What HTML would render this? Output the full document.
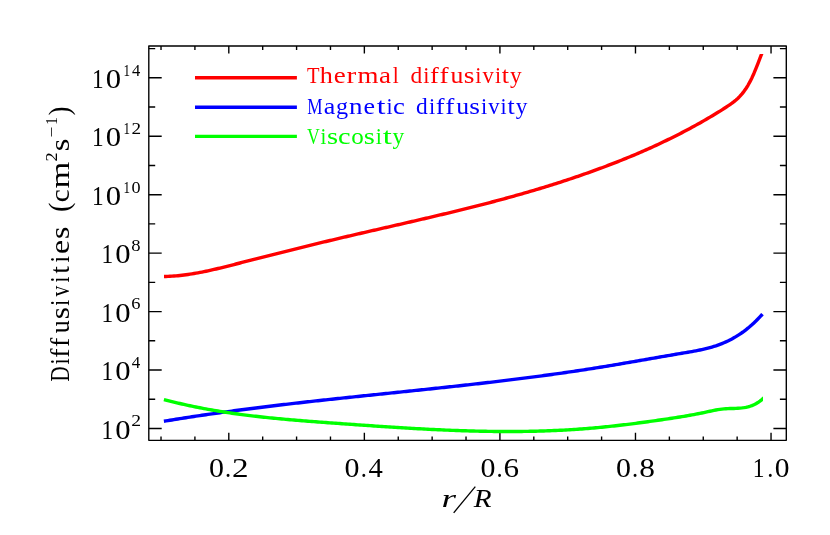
<!DOCTYPE html>
<html><head><meta charset="utf-8"><title>Diffusivities</title>
<style>html,body{margin:0;padding:0;background:#fff}svg{display:block;will-change:transform}text{font-family:"Liberation Serif",serif}</style></head>
<body>
<svg width="830" height="535" viewBox="0 0 830 535">
<rect width="830" height="535" fill="#fff"/>
<path d="M161.02,440.35V436.45M161.02,46.0V49.90M194.91,440.35V436.45M194.91,46.0V49.90M228.80,440.35V432.75M228.80,46.0V53.60M262.69,440.35V436.45M262.69,46.0V49.90M296.58,440.35V436.45M296.58,46.0V49.90M330.47,440.35V436.45M330.47,46.0V49.90M364.36,440.35V432.75M364.36,46.0V53.60M398.25,440.35V436.45M398.25,46.0V49.90M432.14,440.35V436.45M432.14,46.0V49.90M466.03,440.35V436.45M466.03,46.0V49.90M499.92,440.35V432.75M499.92,46.0V53.60M533.81,440.35V436.45M533.81,46.0V49.90M567.70,440.35V436.45M567.70,46.0V49.90M601.59,440.35V436.45M601.59,46.0V49.90M635.48,440.35V432.75M635.48,46.0V53.60M669.37,440.35V436.45M669.37,46.0V49.90M703.26,440.35V436.45M703.26,46.0V49.90M737.15,440.35V436.45M737.15,46.0V49.90M771.04,440.35V432.75M771.04,46.0V53.60M148.8,428.45H161.70M786.3,428.45H773.40M148.8,399.23H155.20M786.3,399.23H779.90M148.8,370.01H161.70M786.3,370.01H773.40M148.8,340.79H155.20M786.3,340.79H779.90M148.8,311.57H161.70M786.3,311.57H773.40M148.8,282.35H155.20M786.3,282.35H779.90M148.8,253.13H161.70M786.3,253.13H773.40M148.8,223.91H155.20M786.3,223.91H779.90M148.8,194.69H161.70M786.3,194.69H773.40M148.8,165.47H155.20M786.3,165.47H779.90M148.8,136.25H161.70M786.3,136.25H773.40M148.8,107.03H155.20M786.3,107.03H779.90M148.8,77.81H161.70M786.3,77.81H773.40M148.8,48.59H155.20M786.3,48.59H779.90" stroke="#000" stroke-width="1.38" fill="none"/>
<rect x="148.8" y="46.0" width="637.50" height="394.35" fill="none" stroke="#000" stroke-width="1.38" stroke-linejoin="round"/>
<clipPath id="rc"><rect x="150" y="54.0" width="636" height="386"/></clipPath>
<path d="M164.0,276.49 L166.0,276.45 L168.0,276.38 L170.0,276.29 L172.0,276.17 L174.0,276.04 L176.0,275.87 L178.0,275.69 L180.0,275.49 L182.0,275.26 L184.0,275.02 L186.0,274.75 L188.0,274.47 L190.0,274.17 L192.0,273.86 L194.0,273.53 L196.0,273.18 L198.0,272.82 L200.0,272.44 L202.0,272.05 L204.0,271.65 L206.0,271.23 L208.0,270.80 L210.0,270.37 L212.0,269.92 L214.0,269.46 L216.0,269.00 L218.0,268.52 L220.0,268.04 L222.0,267.56 L224.0,267.06 L226.0,266.56 L228.0,266.06 L230.0,265.55 L232.0,265.04 L234.0,264.53 L236.0,264.01 L238.0,263.50 L240.0,262.98 L242.0,262.47 L244.0,261.95 L246.0,261.44 L248.0,260.92 L250.0,260.41 L252.0,259.89 L254.0,259.38 L256.0,258.87 L258.0,258.36 L260.0,257.85 L262.0,257.34 L264.0,256.83 L266.0,256.32 L268.0,255.82 L270.0,255.31 L272.0,254.80 L274.0,254.30 L276.0,253.79 L278.0,253.29 L280.0,252.79 L282.0,252.29 L284.0,251.79 L286.0,251.29 L288.0,250.79 L290.0,250.29 L292.0,249.79 L294.0,249.29 L296.0,248.80 L298.0,248.30 L300.0,247.81 L302.0,247.32 L304.0,246.83 L306.0,246.33 L308.0,245.84 L310.0,245.36 L312.0,244.87 L314.0,244.38 L316.0,243.90 L318.0,243.41 L320.0,242.93 L322.0,242.44 L324.0,241.96 L326.0,241.48 L328.0,241.00 L330.0,240.52 L332.0,240.05 L334.0,239.57 L336.0,239.10 L338.0,238.62 L340.0,238.15 L342.0,237.68 L344.0,237.21 L346.0,236.74 L348.0,236.27 L350.0,235.80 L352.0,235.34 L354.0,234.87 L356.0,234.41 L358.0,233.94 L360.0,233.48 L362.0,233.02 L364.0,232.55 L366.0,232.09 L368.0,231.63 L370.0,231.17 L372.0,230.71 L374.0,230.25 L376.0,229.79 L378.0,229.33 L380.0,228.87 L382.0,228.42 L384.0,227.96 L386.0,227.50 L388.0,227.04 L390.0,226.58 L392.0,226.12 L394.0,225.66 L396.0,225.21 L398.0,224.75 L400.0,224.29 L402.0,223.83 L404.0,223.37 L406.0,222.91 L408.0,222.45 L410.0,221.98 L412.0,221.52 L414.0,221.06 L416.0,220.60 L418.0,220.13 L420.0,219.67 L422.0,219.20 L424.0,218.74 L426.0,218.27 L428.0,217.80 L430.0,217.33 L432.0,216.86 L434.0,216.39 L436.0,215.91 L438.0,215.44 L440.0,214.97 L442.0,214.49 L444.0,214.01 L446.0,213.53 L448.0,213.05 L450.0,212.57 L452.0,212.08 L454.0,211.60 L456.0,211.11 L458.0,210.62 L460.0,210.13 L462.0,209.64 L464.0,209.15 L466.0,208.65 L468.0,208.15 L470.0,207.65 L472.0,207.15 L474.0,206.65 L476.0,206.14 L478.0,205.63 L480.0,205.12 L482.0,204.61 L484.0,204.09 L486.0,203.57 L488.0,203.05 L490.0,202.53 L492.0,202.00 L494.0,201.48 L496.0,200.94 L498.0,200.41 L500.0,199.87 L502.0,199.34 L504.0,198.79 L506.0,198.25 L508.0,197.70 L510.0,197.15 L512.0,196.60 L514.0,196.04 L516.0,195.48 L518.0,194.92 L520.0,194.35 L522.0,193.78 L524.0,193.21 L526.0,192.63 L528.0,192.05 L530.0,191.47 L532.0,190.88 L534.0,190.29 L536.0,189.70 L538.0,189.10 L540.0,188.50 L542.0,187.89 L544.0,187.28 L546.0,186.67 L548.0,186.05 L550.0,185.43 L552.0,184.81 L554.0,184.18 L556.0,183.54 L558.0,182.91 L560.0,182.26 L562.0,181.62 L564.0,180.97 L566.0,180.31 L568.0,179.65 L570.0,178.99 L572.0,178.32 L574.0,177.65 L576.0,176.97 L578.0,176.29 L580.0,175.60 L582.0,174.91 L584.0,174.21 L586.0,173.51 L588.0,172.81 L590.0,172.10 L592.0,171.38 L594.0,170.66 L596.0,169.93 L598.0,169.20 L600.0,168.46 L602.0,167.72 L604.0,166.97 L606.0,166.22 L608.0,165.46 L610.0,164.70 L612.0,163.93 L614.0,163.15 L616.0,162.37 L618.0,161.58 L620.0,160.79 L622.0,159.99 L624.0,159.18 L626.0,158.37 L628.0,157.55 L630.0,156.73 L632.0,155.89 L634.0,155.06 L636.0,154.21 L638.0,153.36 L640.0,152.50 L642.0,151.63 L644.0,150.75 L646.0,149.87 L648.0,148.98 L650.0,148.08 L652.0,147.18 L654.0,146.27 L656.0,145.35 L658.0,144.42 L660.0,143.48 L662.0,142.54 L664.0,141.58 L666.0,140.62 L668.0,139.65 L670.0,138.67 L672.0,137.69 L674.0,136.69 L676.0,135.69 L678.0,134.67 L680.0,133.65 L682.0,132.62 L684.0,131.58 L686.0,130.53 L688.0,129.47 L690.0,128.40 L692.0,127.32 L694.0,126.23 L696.0,125.13 L698.0,124.02 L700.0,122.90 L702.0,121.77 L704.0,120.63 L706.0,119.48 L708.0,118.32 L710.0,117.15 L712.0,115.96 L714.0,114.76 L716.0,113.55 L718.0,112.32 L720.0,111.08 L722.0,109.82 L724.0,108.54 L726.0,107.25 L728.0,105.94 L730.0,104.59 L732.0,103.18 L734.0,101.65 L736.0,100.00 L738.0,98.18 L740.0,96.16 L742.0,93.89 L744.0,91.35 L746.0,88.50 L748.0,85.28 L750.0,81.67 L752.0,77.66 L754.0,73.21 L756.0,68.39 L758.0,63.33 L760.0,58.15 L762.0,52.97 L762.4,51.95" fill="none" stroke="#ff0000" stroke-width="3.4" stroke-linejoin="round" clip-path="url(#rc)"/>
<path d="M163.9,421.27 L165.9,420.94 L167.9,420.61 L169.9,420.28 L171.9,419.95 L173.9,419.63 L175.9,419.30 L177.9,418.98 L179.9,418.66 L181.9,418.35 L183.9,418.03 L185.9,417.72 L187.9,417.41 L189.9,417.10 L191.9,416.80 L193.9,416.49 L195.9,416.19 L197.9,415.89 L199.9,415.59 L201.9,415.30 L203.9,415.00 L205.9,414.71 L207.9,414.42 L209.9,414.13 L211.9,413.84 L213.9,413.56 L215.9,413.27 L217.9,412.99 L219.9,412.71 L221.9,412.43 L223.9,412.16 L225.9,411.88 L227.9,411.61 L229.9,411.34 L231.9,411.07 L233.9,410.80 L235.9,410.53 L237.9,410.27 L239.9,410.01 L241.9,409.74 L243.9,409.48 L245.9,409.22 L247.9,408.97 L249.9,408.71 L251.9,408.46 L253.9,408.20 L255.9,407.95 L257.9,407.70 L259.9,407.45 L261.9,407.20 L263.9,406.96 L265.9,406.71 L267.9,406.47 L269.9,406.22 L271.9,405.98 L273.9,405.74 L275.9,405.50 L277.9,405.26 L279.9,405.03 L281.9,404.79 L283.9,404.55 L285.9,404.32 L287.9,404.09 L289.9,403.86 L291.9,403.63 L293.9,403.40 L295.9,403.17 L297.9,402.94 L299.9,402.71 L301.9,402.49 L303.9,402.26 L305.9,402.04 L307.9,401.81 L309.9,401.59 L311.9,401.37 L313.9,401.15 L315.9,400.93 L317.9,400.71 L319.9,400.49 L321.9,400.27 L323.9,400.05 L325.9,399.84 L327.9,399.62 L329.9,399.40 L331.9,399.19 L333.9,398.97 L335.9,398.76 L337.9,398.55 L339.9,398.33 L341.9,398.12 L343.9,397.91 L345.9,397.70 L347.9,397.49 L349.9,397.28 L351.9,397.07 L353.9,396.86 L355.9,396.65 L357.9,396.44 L359.9,396.23 L361.9,396.02 L363.9,395.81 L365.9,395.60 L367.9,395.40 L369.9,395.19 L371.9,394.98 L373.9,394.77 L375.9,394.57 L377.9,394.36 L379.9,394.15 L381.9,393.95 L383.9,393.74 L385.9,393.53 L387.9,393.33 L389.9,393.12 L391.9,392.91 L393.9,392.70 L395.9,392.50 L397.9,392.29 L399.9,392.08 L401.9,391.88 L403.9,391.67 L405.9,391.46 L407.9,391.25 L409.9,391.05 L411.9,390.84 L413.9,390.63 L415.9,390.42 L417.9,390.21 L419.9,390.00 L421.9,389.79 L423.9,389.58 L425.9,389.37 L427.9,389.16 L429.9,388.95 L431.9,388.74 L433.9,388.53 L435.9,388.31 L437.9,388.10 L439.9,387.89 L441.9,387.67 L443.9,387.46 L445.9,387.24 L447.9,387.03 L449.9,386.81 L451.9,386.59 L453.9,386.38 L455.9,386.16 L457.9,385.94 L459.9,385.72 L461.9,385.50 L463.9,385.28 L465.9,385.05 L467.9,384.83 L469.9,384.61 L471.9,384.38 L473.9,384.16 L475.9,383.93 L477.9,383.70 L479.9,383.47 L481.9,383.24 L483.9,383.01 L485.9,382.78 L487.9,382.55 L489.9,382.32 L491.9,382.08 L493.9,381.85 L495.9,381.61 L497.9,381.37 L499.9,381.13 L501.9,380.89 L503.9,380.65 L505.9,380.41 L507.9,380.17 L509.9,379.92 L511.9,379.68 L513.9,379.43 L515.9,379.18 L517.9,378.93 L519.9,378.68 L521.9,378.43 L523.9,378.17 L525.9,377.92 L527.9,377.66 L529.9,377.40 L531.9,377.14 L533.9,376.88 L535.9,376.62 L537.9,376.36 L539.9,376.09 L541.9,375.82 L543.9,375.55 L545.9,375.28 L547.9,375.01 L549.9,374.74 L551.9,374.46 L553.9,374.18 L555.9,373.91 L557.9,373.62 L559.9,373.34 L561.9,373.06 L563.9,372.77 L565.9,372.48 L567.9,372.19 L569.9,371.90 L571.9,371.61 L573.9,371.31 L575.9,371.02 L577.9,370.72 L579.9,370.42 L581.9,370.11 L583.9,369.81 L585.9,369.50 L587.9,369.19 L589.9,368.88 L591.9,368.57 L593.9,368.25 L595.9,367.94 L597.9,367.62 L599.9,367.29 L601.9,366.97 L603.9,366.64 L605.9,366.32 L607.9,365.99 L609.9,365.65 L611.9,365.32 L613.9,364.99 L615.9,364.65 L617.9,364.31 L619.9,363.97 L621.9,363.63 L623.9,363.29 L625.9,362.94 L627.9,362.60 L629.9,362.26 L631.9,361.91 L633.9,361.56 L635.9,361.22 L637.9,360.87 L639.9,360.52 L641.9,360.17 L643.9,359.82 L645.9,359.47 L647.9,359.12 L649.9,358.78 L651.9,358.43 L653.9,358.08 L655.9,357.73 L657.9,357.38 L659.9,357.03 L661.9,356.69 L663.9,356.34 L665.9,355.99 L667.9,355.65 L669.9,355.30 L671.9,354.96 L673.9,354.62 L675.9,354.28 L677.9,353.94 L679.9,353.60 L681.9,353.27 L683.9,352.93 L685.9,352.59 L687.9,352.26 L689.9,351.91 L691.9,351.56 L693.9,351.19 L695.9,350.82 L697.9,350.43 L699.9,350.02 L701.9,349.58 L703.9,349.13 L705.9,348.65 L707.9,348.14 L709.9,347.60 L711.9,347.03 L713.9,346.42 L715.9,345.78 L717.9,345.09 L719.9,344.36 L721.9,343.58 L723.9,342.75 L725.9,341.88 L727.9,340.95 L729.9,339.96 L731.9,338.92 L733.9,337.81 L735.9,336.65 L737.9,335.41 L739.9,334.11 L741.9,332.75 L743.9,331.31 L745.9,329.79 L747.9,328.20 L749.9,326.53 L751.9,324.78 L753.9,322.95 L755.9,321.04 L757.9,319.03 L759.9,316.94 L761.9,314.76 L762.5,314.09" fill="none" stroke="#0000ff" stroke-width="3.4" stroke-linejoin="round"/>
<clipPath id="gc"><rect x="150" y="380" width="612.9" height="60"/></clipPath>
<path d="M163.9,399.53 L165.9,400.06 L167.9,400.58 L169.9,401.09 L171.9,401.59 L173.9,402.09 L175.9,402.57 L177.9,403.05 L179.9,403.52 L181.9,403.98 L183.9,404.44 L185.9,404.88 L187.9,405.32 L189.9,405.75 L191.9,406.17 L193.9,406.59 L195.9,407.00 L197.9,407.40 L199.9,407.79 L201.9,408.18 L203.9,408.56 L205.9,408.93 L207.9,409.30 L209.9,409.66 L211.9,410.01 L213.9,410.35 L215.9,410.69 L217.9,411.03 L219.9,411.36 L221.9,411.68 L223.9,411.99 L225.9,412.30 L227.9,412.60 L229.9,412.90 L231.9,413.20 L233.9,413.48 L235.9,413.76 L237.9,414.04 L239.9,414.31 L241.9,414.58 L243.9,414.84 L245.9,415.09 L247.9,415.35 L249.9,415.59 L251.9,415.84 L253.9,416.07 L255.9,416.31 L257.9,416.54 L259.9,416.76 L261.9,416.98 L263.9,417.20 L265.9,417.41 L267.9,417.62 L269.9,417.83 L271.9,418.03 L273.9,418.23 L275.9,418.43 L277.9,418.62 L279.9,418.81 L281.9,419.00 L283.9,419.18 L285.9,419.36 L287.9,419.54 L289.9,419.71 L291.9,419.89 L293.9,420.06 L295.9,420.23 L297.9,420.39 L299.9,420.56 L301.9,420.72 L303.9,420.88 L305.9,421.04 L307.9,421.19 L309.9,421.35 L311.9,421.50 L313.9,421.65 L315.9,421.80 L317.9,421.95 L319.9,422.10 L321.9,422.25 L323.9,422.39 L325.9,422.54 L327.9,422.69 L329.9,422.83 L331.9,422.97 L333.9,423.12 L335.9,423.26 L337.9,423.40 L339.9,423.55 L341.9,423.69 L343.9,423.83 L345.9,423.98 L347.9,424.12 L349.9,424.26 L351.9,424.40 L353.9,424.55 L355.9,424.69 L357.9,424.83 L359.9,424.97 L361.9,425.11 L363.9,425.25 L365.9,425.39 L367.9,425.53 L369.9,425.67 L371.9,425.80 L373.9,425.94 L375.9,426.08 L377.9,426.21 L379.9,426.35 L381.9,426.48 L383.9,426.61 L385.9,426.74 L387.9,426.88 L389.9,427.01 L391.9,427.13 L393.9,427.26 L395.9,427.39 L397.9,427.51 L399.9,427.64 L401.9,427.76 L403.9,427.88 L405.9,428.00 L407.9,428.12 L409.9,428.24 L411.9,428.36 L413.9,428.47 L415.9,428.59 L417.9,428.70 L419.9,428.81 L421.9,428.92 L423.9,429.02 L425.9,429.13 L427.9,429.23 L429.9,429.34 L431.9,429.44 L433.9,429.53 L435.9,429.63 L437.9,429.72 L439.9,429.82 L441.9,429.91 L443.9,430.00 L445.9,430.08 L447.9,430.17 L449.9,430.25 L451.9,430.33 L453.9,430.41 L455.9,430.48 L457.9,430.55 L459.9,430.62 L461.9,430.69 L463.9,430.76 L465.9,430.82 L467.9,430.88 L469.9,430.94 L471.9,431.00 L473.9,431.05 L475.9,431.10 L477.9,431.15 L479.9,431.19 L481.9,431.23 L483.9,431.27 L485.9,431.31 L487.9,431.34 L489.9,431.37 L491.9,431.40 L493.9,431.43 L495.9,431.45 L497.9,431.47 L499.9,431.48 L501.9,431.49 L503.9,431.50 L505.9,431.51 L507.9,431.51 L509.9,431.51 L511.9,431.51 L513.9,431.50 L515.9,431.49 L517.9,431.47 L519.9,431.45 L521.9,431.43 L523.9,431.41 L525.9,431.38 L527.9,431.35 L529.9,431.31 L531.9,431.27 L533.9,431.22 L535.9,431.18 L537.9,431.12 L539.9,431.07 L541.9,431.01 L543.9,430.95 L545.9,430.88 L547.9,430.81 L549.9,430.73 L551.9,430.65 L553.9,430.57 L555.9,430.48 L557.9,430.39 L559.9,430.29 L561.9,430.19 L563.9,430.08 L565.9,429.97 L567.9,429.86 L569.9,429.74 L571.9,429.61 L573.9,429.49 L575.9,429.35 L577.9,429.22 L579.9,429.07 L581.9,428.93 L583.9,428.78 L585.9,428.62 L587.9,428.46 L589.9,428.29 L591.9,428.12 L593.9,427.95 L595.9,427.77 L597.9,427.58 L599.9,427.39 L601.9,427.20 L603.9,427.00 L605.9,426.80 L607.9,426.60 L609.9,426.39 L611.9,426.17 L613.9,425.95 L615.9,425.73 L617.9,425.51 L619.9,425.28 L621.9,425.05 L623.9,424.81 L625.9,424.57 L627.9,424.32 L629.9,424.08 L631.9,423.83 L633.9,423.57 L635.9,423.32 L637.9,423.06 L639.9,422.79 L641.9,422.53 L643.9,422.26 L645.9,421.98 L647.9,421.71 L649.9,421.43 L651.9,421.15 L653.9,420.87 L655.9,420.58 L657.9,420.29 L659.9,420.00 L661.9,419.71 L663.9,419.41 L665.9,419.11 L667.9,418.81 L669.9,418.51 L671.9,418.20 L673.9,417.90 L675.9,417.59 L677.9,417.28 L679.9,416.96 L681.9,416.64 L683.9,416.31 L685.9,415.98 L687.9,415.64 L689.9,415.29 L691.9,414.93 L693.9,414.56 L695.9,414.18 L697.9,413.79 L699.9,413.39 L701.9,412.98 L703.9,412.55 L705.9,412.11 L707.9,411.68 L709.9,411.24 L711.9,410.82 L713.9,410.42 L715.9,410.04 L717.9,409.69 L719.9,409.39 L721.9,409.13 L723.9,408.92 L725.9,408.76 L727.9,408.65 L729.9,408.57 L731.9,408.51 L733.9,408.45 L735.9,408.37 L737.9,408.27 L739.9,408.13 L741.9,407.93 L743.9,407.66 L745.9,407.30 L747.9,406.84 L749.9,406.27 L751.9,405.57 L753.9,404.72 L755.9,403.72 L757.9,402.54 L759.9,401.17 L761.9,399.59 L763.9,397.80 L764.2,397.51" fill="none" stroke="#00ff00" stroke-width="3.4" stroke-linejoin="round" clip-path="url(#gc)"/>
<path d="M195,77.7H296.9" stroke="#ff0000" stroke-width="3.4" fill="none"/>
<path d="M195,107.2H296.9" stroke="#0000ff" stroke-width="3.4" fill="none"/>
<path d="M195,136.4H296.9" stroke="#00ff00" stroke-width="3.4" fill="none"/>
<g font-family="'Liberation Serif', serif" style="font-kerning:none">
<text transform="translate(0 82.90) scale(1 1.0500)" font-size="22.0" fill="#ff0000"><tspan x="306.93" textLength="12.51" lengthAdjust="spacingAndGlyphs">T</tspan><tspan x="319.74" textLength="13.10" lengthAdjust="spacingAndGlyphs">h</tspan><tspan x="333.84" textLength="11.99" lengthAdjust="spacingAndGlyphs">e</tspan><tspan x="346.51" textLength="9.74" lengthAdjust="spacingAndGlyphs">r</tspan><tspan x="357.43" textLength="20.99" lengthAdjust="spacingAndGlyphs">m</tspan><tspan x="379.05" textLength="12.02" lengthAdjust="spacingAndGlyphs">a</tspan><tspan x="392.67" textLength="5.96" lengthAdjust="spacingAndGlyphs">l</tspan></text>
<text transform="translate(0 82.90) scale(1 1.0500)" font-size="22.0" fill="#ff0000"><tspan x="410.45" textLength="11.73" lengthAdjust="spacingAndGlyphs">d</tspan><tspan x="423.33" textLength="6.19" lengthAdjust="spacingAndGlyphs">i</tspan><tspan x="430.09" textLength="8.81" lengthAdjust="spacingAndGlyphs">f</tspan><tspan x="439.56" textLength="9.14" lengthAdjust="spacingAndGlyphs">f</tspan><tspan x="450.56" textLength="12.88" lengthAdjust="spacingAndGlyphs">u</tspan><tspan x="463.77" textLength="10.73" lengthAdjust="spacingAndGlyphs">s</tspan><tspan x="475.33" textLength="6.19" lengthAdjust="spacingAndGlyphs">i</tspan><tspan x="482.60" textLength="11.30" lengthAdjust="spacingAndGlyphs">v</tspan><tspan x="494.94" textLength="6.08" lengthAdjust="spacingAndGlyphs">i</tspan><tspan x="501.85" textLength="7.21" lengthAdjust="spacingAndGlyphs">t</tspan><tspan x="510.11" textLength="11.68" lengthAdjust="spacingAndGlyphs">y</tspan></text>
<text transform="translate(0 113.70) scale(1 1.0500)" font-size="22.0" fill="#0000ff"><tspan x="307.30" textLength="15.30" lengthAdjust="spacingAndGlyphs">M</tspan><tspan x="323.68" textLength="11.57" lengthAdjust="spacingAndGlyphs">a</tspan><tspan x="335.96" textLength="12.10" lengthAdjust="spacingAndGlyphs">g</tspan><tspan x="349.08" textLength="13.53" lengthAdjust="spacingAndGlyphs">n</tspan><tspan x="363.59" textLength="11.51" lengthAdjust="spacingAndGlyphs">e</tspan><tspan x="376.69" textLength="8.69" lengthAdjust="spacingAndGlyphs">t</tspan><tspan x="386.44" textLength="6.08" lengthAdjust="spacingAndGlyphs">i</tspan><tspan x="393.08" textLength="11.84" lengthAdjust="spacingAndGlyphs">c</tspan></text>
<text transform="translate(0 113.70) scale(1 1.0500)" font-size="22.0" fill="#0000ff"><tspan x="416.05" textLength="11.73" lengthAdjust="spacingAndGlyphs">d</tspan><tspan x="428.93" textLength="6.19" lengthAdjust="spacingAndGlyphs">i</tspan><tspan x="435.69" textLength="8.81" lengthAdjust="spacingAndGlyphs">f</tspan><tspan x="445.16" textLength="9.14" lengthAdjust="spacingAndGlyphs">f</tspan><tspan x="456.16" textLength="12.88" lengthAdjust="spacingAndGlyphs">u</tspan><tspan x="469.37" textLength="10.73" lengthAdjust="spacingAndGlyphs">s</tspan><tspan x="480.93" textLength="6.19" lengthAdjust="spacingAndGlyphs">i</tspan><tspan x="488.20" textLength="11.30" lengthAdjust="spacingAndGlyphs">v</tspan><tspan x="500.54" textLength="6.08" lengthAdjust="spacingAndGlyphs">i</tspan><tspan x="507.45" textLength="7.21" lengthAdjust="spacingAndGlyphs">t</tspan><tspan x="515.71" textLength="11.68" lengthAdjust="spacingAndGlyphs">y</tspan></text>
<text transform="translate(0 143.90) scale(1 1.0500)" font-size="22.0" fill="#00ff00"><tspan x="306.90" textLength="12.80" lengthAdjust="spacingAndGlyphs">V</tspan><tspan x="320.56" textLength="5.84" lengthAdjust="spacingAndGlyphs">i</tspan><tspan x="326.93" textLength="11.10" lengthAdjust="spacingAndGlyphs">s</tspan><tspan x="338.02" textLength="12.55" lengthAdjust="spacingAndGlyphs">c</tspan><tspan x="351.15" textLength="12.51" lengthAdjust="spacingAndGlyphs">o</tspan><tspan x="363.63" textLength="11.10" lengthAdjust="spacingAndGlyphs">s</tspan><tspan x="375.64" textLength="6.08" lengthAdjust="spacingAndGlyphs">i</tspan><tspan x="382.68" textLength="9.11" lengthAdjust="spacingAndGlyphs">t</tspan><tspan x="392.61" textLength="11.78" lengthAdjust="spacingAndGlyphs">y</tspan></text>
<text transform="translate(0 438.60) scale(1 1.0000)" font-size="26.4" fill="#000"><tspan x="101.50" textLength="11.65" lengthAdjust="spacingAndGlyphs">1</tspan><tspan x="115.38" textLength="15.34" lengthAdjust="spacingAndGlyphs">0</tspan></text>
<text transform="translate(131.18 426.35) scale(1.2317 1.0000)" font-size="16.0" fill="#000">2</text>
<text transform="translate(0 380.16) scale(1 1.0000)" font-size="26.4" fill="#000"><tspan x="101.50" textLength="11.65" lengthAdjust="spacingAndGlyphs">1</tspan><tspan x="115.38" textLength="15.34" lengthAdjust="spacingAndGlyphs">0</tspan></text>
<text transform="translate(131.72 367.91) scale(1.0622 1.0000)" font-size="16.0" fill="#000">4</text>
<text transform="translate(0 321.72) scale(1 1.0000)" font-size="26.4" fill="#000"><tspan x="101.50" textLength="11.65" lengthAdjust="spacingAndGlyphs">1</tspan><tspan x="115.38" textLength="15.34" lengthAdjust="spacingAndGlyphs">0</tspan></text>
<text transform="translate(131.26 309.47) scale(1.1557 1.0000)" font-size="16.0" fill="#000">6</text>
<text transform="translate(0 263.28) scale(1 1.0000)" font-size="26.4" fill="#000"><tspan x="101.50" textLength="11.65" lengthAdjust="spacingAndGlyphs">1</tspan><tspan x="115.38" textLength="15.34" lengthAdjust="spacingAndGlyphs">0</tspan></text>
<text transform="translate(131.34 251.03) scale(1.1650 1.0000)" font-size="16.0" fill="#000">8</text>
<text transform="translate(0 204.84) scale(1 1.0000)" font-size="26.4" fill="#000"><tspan x="92.00" textLength="11.65" lengthAdjust="spacingAndGlyphs">1</tspan><tspan x="105.88" textLength="15.34" lengthAdjust="spacingAndGlyphs">0</tspan></text>
<text transform="translate(0 192.59) scale(1 1.0000)" font-size="16.0" fill="#000"><tspan x="123.40" textLength="6.53" lengthAdjust="spacingAndGlyphs">1</tspan><tspan x="131.56" textLength="9.08" lengthAdjust="spacingAndGlyphs">0</tspan></text>
<text transform="translate(0 146.40) scale(1 1.0000)" font-size="26.4" fill="#000"><tspan x="92.00" textLength="11.65" lengthAdjust="spacingAndGlyphs">1</tspan><tspan x="105.88" textLength="15.34" lengthAdjust="spacingAndGlyphs">0</tspan></text>
<text transform="translate(0 134.15) scale(1 1.0000)" font-size="16.0" fill="#000"><tspan x="123.40" textLength="6.53" lengthAdjust="spacingAndGlyphs">1</tspan><tspan x="131.41" textLength="9.60" lengthAdjust="spacingAndGlyphs">2</tspan></text>
<text transform="translate(0 87.96) scale(1 1.0000)" font-size="26.4" fill="#000"><tspan x="92.00" textLength="11.65" lengthAdjust="spacingAndGlyphs">1</tspan><tspan x="105.88" textLength="15.34" lengthAdjust="spacingAndGlyphs">0</tspan></text>
<text transform="translate(0 75.71) scale(1 1.0000)" font-size="16.0" fill="#000"><tspan x="123.40" textLength="6.53" lengthAdjust="spacingAndGlyphs">1</tspan><tspan x="131.93" textLength="8.28" lengthAdjust="spacingAndGlyphs">4</tspan></text>
<text transform="translate(0 476.80) scale(1 1.0000)" font-size="26.4" fill="#000"><tspan x="208.96" textLength="14.98" lengthAdjust="spacingAndGlyphs">0</tspan><tspan x="224.98" textLength="6.14" lengthAdjust="spacingAndGlyphs">.</tspan><tspan x="231.94" textLength="16.59" lengthAdjust="spacingAndGlyphs">2</tspan></text>
<text transform="translate(0 476.80) scale(1 1.0000)" font-size="26.4" fill="#000"><tspan x="344.62" textLength="14.98" lengthAdjust="spacingAndGlyphs">0</tspan><tspan x="360.64" textLength="6.14" lengthAdjust="spacingAndGlyphs">.</tspan><tspan x="368.50" textLength="14.31" lengthAdjust="spacingAndGlyphs">4</tspan></text>
<text transform="translate(0 476.80) scale(1 1.0000)" font-size="26.4" fill="#000"><tspan x="480.48" textLength="14.98" lengthAdjust="spacingAndGlyphs">0</tspan><tspan x="496.50" textLength="6.14" lengthAdjust="spacingAndGlyphs">.</tspan><tspan x="503.58" textLength="15.56" lengthAdjust="spacingAndGlyphs">6</tspan></text>
<text transform="translate(0 476.80) scale(1 1.0000)" font-size="26.4" fill="#000"><tspan x="616.04" textLength="14.98" lengthAdjust="spacingAndGlyphs">0</tspan><tspan x="632.06" textLength="6.14" lengthAdjust="spacingAndGlyphs">.</tspan><tspan x="639.28" textLength="15.69" lengthAdjust="spacingAndGlyphs">8</tspan></text>
<text transform="translate(0 476.80) scale(1 1.0000)" font-size="26.4" fill="#000"><tspan x="752.63" textLength="11.72" lengthAdjust="spacingAndGlyphs">1</tspan><tspan x="767.32" textLength="6.14" lengthAdjust="spacingAndGlyphs">.</tspan><tspan x="774.82" textLength="14.75" lengthAdjust="spacingAndGlyphs">0</tspan></text>
<text transform="translate(441.39 506.70) scale(1.4114 0.9300)" font-size="26.4" fill="#000" font-style="italic">r</text>
<text transform="translate(473.76 506.70) scale(1.1055 0.9700)" font-size="26.4" fill="#000" font-style="italic">R</text>
</g>
<path d="M475.3,486.6L453.7,512.8" stroke="#000" stroke-width="1.3" fill="none"/>
<g font-family="'Liberation Serif', serif" style="font-kerning:none" transform="translate(68.8,380.3) rotate(-90)">
<text transform="translate(0 0.00) scale(1 1.0000)" font-size="26.4" fill="#000"><tspan x="-1.10" textLength="15.14" lengthAdjust="spacingAndGlyphs">D</tspan><tspan x="15.84" textLength="6.08" lengthAdjust="spacingAndGlyphs">i</tspan><tspan x="22.45" textLength="9.25" lengthAdjust="spacingAndGlyphs">f</tspan><tspan x="33.25" textLength="9.25" lengthAdjust="spacingAndGlyphs">f</tspan><tspan x="46.96" textLength="12.99" lengthAdjust="spacingAndGlyphs">u</tspan><tspan x="61.01" textLength="12.22" lengthAdjust="spacingAndGlyphs">s</tspan><tspan x="74.45" textLength="5.96" lengthAdjust="spacingAndGlyphs">i</tspan><tspan x="83.70" textLength="10.80" lengthAdjust="spacingAndGlyphs">v</tspan><tspan x="97.75" textLength="5.96" lengthAdjust="spacingAndGlyphs">i</tspan><tspan x="106.84" textLength="7.42" lengthAdjust="spacingAndGlyphs">t</tspan><tspan x="117.81" textLength="6.54" lengthAdjust="spacingAndGlyphs">i</tspan><tspan x="126.37" textLength="14.03" lengthAdjust="spacingAndGlyphs">e</tspan><tspan x="141.20" textLength="12.35" lengthAdjust="spacingAndGlyphs">s</tspan></text>
<text transform="translate(168.25 0.00) scale(1.0766 1.1400)" font-size="26.4" fill="#000">(</text>
<text transform="translate(178.08 0.00) scale(1.1111 1.0000)" font-size="26.4" fill="#000">c</text>
<text transform="translate(191.88 0.00) scale(1.3032 1.0000)" font-size="26.4" fill="#000">m</text>
<text transform="translate(218.80 -11.40) scale(1.1381 1.0000)" font-size="16.0" fill="#000">2</text>
<text transform="translate(229.07 0.00) scale(1.2262 1.0000)" font-size="26.4" fill="#000">s</text>
<text transform="translate(242.84 -11.40) scale(1.2088 1.0000)" font-size="16.0" fill="#000">−</text>
<text transform="translate(255.30 -11.40) scale(0.9942 1.0000)" font-size="16.0" fill="#000">1</text>
<text transform="translate(264.82 0.00) scale(1.0324 1.1400)" font-size="26.4" fill="#000">)</text>
</g>
</svg>
</body></html>
